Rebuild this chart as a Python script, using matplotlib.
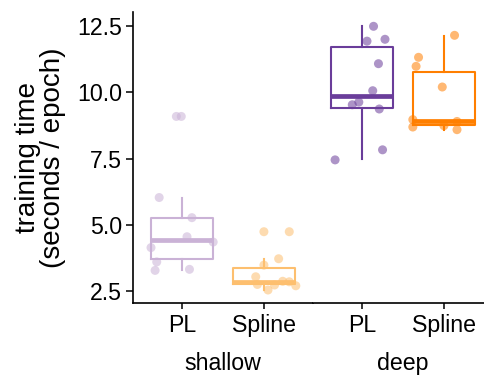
import matplotlib.pyplot as plt
import numpy as np

plt.rcParams['font.family'] = ['Liberation Sans', 'DejaVu Sans']

depths = ['shallow', 'deep']
methods = ['PL', 'Spline']

# observed training times (seconds / epoch)
shallow_pl = [9.09, 9.09, 6.03, 5.27, 4.55, 4.35, 4.14, 3.60, 3.28, 3.32]
shallow_pl_jit = [-0.07, -0.01, -0.28, 0.12, 0.06, 0.38, -0.38, -0.31, -0.33, 0.09]
shallow_sp = [4.74, 4.74, 3.72, 3.48, 3.04, 2.75, 2.54, 2.73, 2.87, 2.85, 2.70]
shallow_sp_jit = [0.0, 0.31, 0.18, 0.0, -0.10, -0.08, 0.05, 0.13, 0.23, 0.31, 0.39]
deep_pl = [12.49, 11.93, 12.00, 11.08, 10.06, 9.63, 9.53, 9.37, 7.83, 7.45]
deep_pl_jit = [0.14, 0.06, 0.28, 0.20, 0.13, -0.04, -0.12, 0.21, 0.25, -0.33]
deep_sp = [12.15, 11.32, 10.98, 10.20, 8.97, 8.69, 8.74, 8.90, 8.59]
deep_sp_jit = [0.13, -0.31, -0.34, -0.02, -0.38, -0.38, 0.0, 0.16, 0.16]

# box summaries: lower whisker, Q1, median, Q3, upper whisker
shallow_pl_box = [3.29, 3.71, 4.43, 5.27, 6.02]
shallow_sp_box = [2.54, 2.78, 2.83, 3.36, 3.70]
deep_pl_box = [7.49, 9.41, 9.85, 11.71, 12.49]
deep_sp_box = [8.59, 8.78, 8.93, 10.77, 12.14]

yticks = [2.5, 5.0, 7.5, 10.0, 12.5]

panels = {
    'shallow': [(shallow_pl, shallow_pl_jit, shallow_pl_box, '#cab2d6'),
                (shallow_sp, shallow_sp_jit, shallow_sp_box, '#fdbf6f')],
    'deep': [(deep_pl, deep_pl_jit, deep_pl_box, '#6a3d9a'),
             (deep_sp, deep_sp_jit, deep_sp_box, '#ff7f00')],
}

FS = 16.7
FT = 20
W, H = 484, 377
fig = plt.figure(figsize=(W / 100, H / 100), dpi=100)
left0, pw, bot, ph = 133, 180, 74, 291
axes = []
for i, d in enumerate(depths):
    ax = fig.add_axes([(left0 + i * pw) / W, bot / H, pw / W, ph / H])
    axes.append(ax)
    for j, (vals, jit, bx, col) in enumerate(panels[d]):
        pos = j + 1
        stats = [dict(whislo=bx[0], q1=bx[1], med=bx[2], q3=bx[3], whishi=bx[4], fliers=[])]
        ax.bxp(stats, positions=[pos], widths=0.75, showcaps=False, showfliers=False,
               boxprops=dict(color=col, linewidth=1.5),
               whiskerprops=dict(color=col, linewidth=1.5),
               medianprops=dict(color=col, linewidth=3.4, solid_capstyle='butt'),
               zorder=2)
        ax.scatter(np.array(jit) + pos, vals, s=42, color=col, alpha=0.55,
                   edgecolors='none', zorder=3)
    ax.set_xlim(0.4, 2.6)
    ax.set_ylim(2.05, 13.03)
    ax.set_xticks([1, 2])
    ax.set_xticklabels(methods, fontsize=FS)
    ax.set_xlabel(d, fontsize=FS, labelpad=11)
    ax.spines['top'].set_visible(False)
    ax.spines['right'].set_visible(False)
    ax.spines['bottom'].set_linewidth(1.2)
    ax.spines['left'].set_linewidth(1.2)
    ax.tick_params(axis='x', length=4, width=1.1, pad=4)
    if i == 0:
        ax.set_yticks(yticks)
        ax.set_yticklabels([f'{v:.1f}' for v in yticks], fontsize=FS)
        ax.tick_params(axis='y', length=5, width=1.1, pad=3)
        ax.set_ylabel('training time\n(seconds / epoch)', fontsize=FT, labelpad=8,
                      linespacing=0.95)
    else:
        ax.spines['left'].set_visible(False)
        ax.set_yticks([])

fig.savefig('out.png', dpi=100)
